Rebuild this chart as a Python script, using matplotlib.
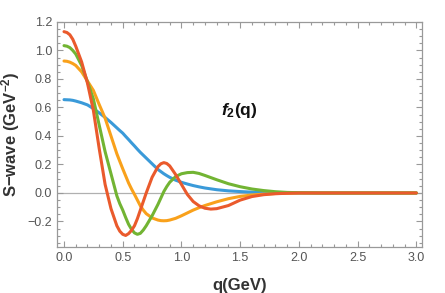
import matplotlib
matplotlib.use("Agg")
import matplotlib.pyplot as plt
from matplotlib.ticker import MultipleLocator

# valores
q = [0.0, 0.025, 0.05, 0.075, 0.1, 0.15, 0.2, 0.25, 0.3, 0.35, 0.4, 0.45, 0.475, 0.5,
     0.525, 0.55, 0.575, 0.6, 0.625, 0.65, 0.675, 0.7, 0.75, 0.8, 0.825, 0.85, 0.875,
     0.9, 0.95, 1.0, 1.05, 1.1, 1.15, 1.2, 1.25, 1.3, 1.4, 1.5, 1.6, 1.7, 1.8, 1.9,
     2.0, 2.2, 2.5, 3.0]

blue = [0.655, 0.654, 0.653, 0.650, 0.645, 0.633, 0.618, 0.592, 0.562, 0.530, 0.495,
        0.457, 0.438, 0.420, 0.397, 0.375, 0.352, 0.330, 0.307, 0.285, 0.265, 0.245,
        0.205, 0.165, 0.150, 0.135, 0.122, 0.110, 0.090, 0.075, 0.063, 0.052, 0.043,
        0.035, 0.029, 0.023, 0.015, 0.010, 0.006, 0.004, 0.002, 0.001, 0.0, 0.0, 0.0,
        0.0]

orange = [0.926, 0.924, 0.918, 0.908, 0.895, 0.850, 0.785, 0.720, 0.620, 0.525, 0.400,
          0.275, 0.222, 0.170, 0.120, 0.070, 0.028, -0.010, -0.050, -0.090, -0.120,
          -0.145, -0.175, -0.190, -0.194, -0.195, -0.194, -0.190, -0.178, -0.160,
          -0.140, -0.120, -0.103, -0.088, -0.075, -0.062, -0.040, -0.024, -0.014,
          -0.008, -0.004, -0.002, 0.0, 0.0, 0.0, 0.0]

green = [1.034, 1.030, 1.020, 1.000, 0.975, 0.895, 0.780, 0.660, 0.475, 0.290, 0.135,
         -0.020, -0.075, -0.120, -0.172, -0.220, -0.255, -0.280, -0.290, -0.283, -0.260,
         -0.230, -0.160, -0.080, -0.035, 0.010, 0.045, 0.075, 0.115, 0.135, 0.143,
         0.145, 0.137, 0.123, 0.108, 0.093, 0.065, 0.044, 0.028, 0.017, 0.009, 0.004,
         0.002, 0.0, 0.0, 0.0]

red = [1.132, 1.126, 1.110, 1.078, 1.030, 0.920, 0.770, 0.580, 0.310, 0.060, -0.110,
       -0.230, -0.268, -0.290, -0.298, -0.285, -0.262, -0.230, -0.180, -0.120, -0.060,
       0.000, 0.110, 0.185, 0.205, 0.213, 0.207, 0.190, 0.130, 0.060, -0.010, -0.060,
       -0.090, -0.107, -0.113, -0.110, -0.088, -0.050, -0.025, -0.012, -0.005, -0.002,
       0.0, 0.0, 0.0, 0.0]

plt.rcParams['font.family'] = ['Liberation Sans', 'DejaVu Sans']
plt.rcParams['mathtext.fontset'] = 'custom'
plt.rcParams['mathtext.rm'] = 'Liberation Sans'
plt.rcParams['mathtext.it'] = 'Liberation Sans:italic'
plt.rcParams['mathtext.bf'] = 'Liberation Sans:bold'
plt.rcParams['mathtext.bfit'] = 'Liberation Sans:italic:bold'

fig = plt.figure(figsize=(4.45, 2.93), dpi=100)
ax = fig.add_axes([0.128, 0.157, 0.82, 0.768])

ax.axhline(0, color='#b0b0b0', linewidth=0.9, zorder=1)

lw = 2.2
ax.plot(q, blue, color='#3a9ad9', linewidth=lw, solid_capstyle='round')
ax.plot(q, orange, color='#f9a11b', linewidth=lw, solid_capstyle='round')
ax.plot(q, green, color='#72b433', linewidth=lw, solid_capstyle='round')
ax.plot(q, red, color='#ea5a2c', linewidth=lw, solid_capstyle='round')

ax.set_xlim(-0.06, 3.047)
ax.set_ylim(-0.379, 1.2)

ax.xaxis.set_major_locator(MultipleLocator(0.5))
ax.xaxis.set_minor_locator(MultipleLocator(0.1))
ax.yaxis.set_major_locator(MultipleLocator(0.2))
ax.yaxis.set_minor_locator(MultipleLocator(0.05))
ax.xaxis.set_major_formatter(plt.FuncFormatter(lambda v, p: f'{v:.1f}'))
ax.yaxis.set_major_formatter(plt.FuncFormatter(lambda v, p: f'{v:.1f}'.replace('-', '\u2212')))

ax.tick_params(which='both', direction='in', top=True, right=True, color='#999999',
               labelsize=9, labelcolor='#555555', width=0.8)
ax.tick_params(which='major', length=4)
ax.tick_params(which='minor', length=2)
for s in ax.spines.values():
    s.set_color('#999999')
    s.set_linewidth(0.9)

ax.set_xlabel('q(GeV)', fontsize=12, fontweight='bold', color='#333333', labelpad=10)
ax.set_ylabel('S\u2212wave (GeV$^{\\mathbf{-2}}$)', fontsize=12, fontweight='bold',
              color='#333333', labelpad=4)

ax.text(1.49, 0.58, r'$\mathbfit{f}_{\mathbf{2}}\mathbf{(q)}$', fontsize=12.5,
        ha='center', va='center', color='#111111')

fig.savefig('out.png', dpi=100)
